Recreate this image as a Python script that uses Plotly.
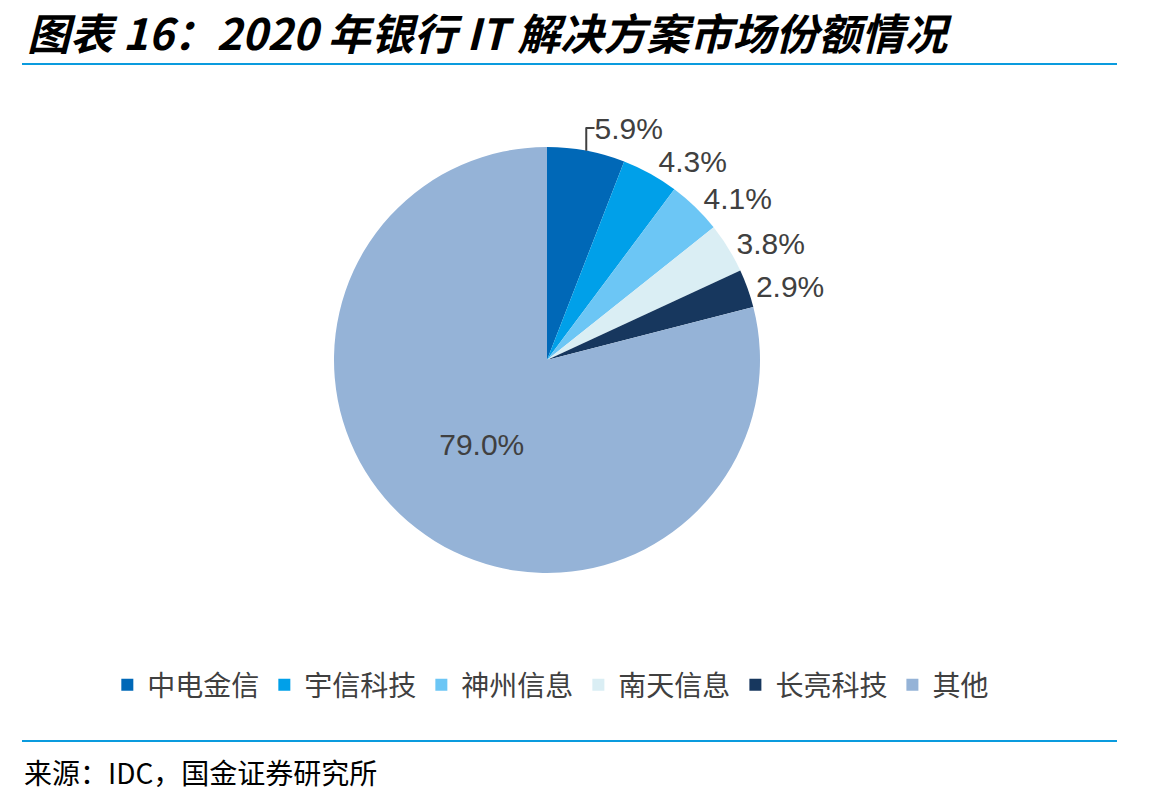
import plotly.graph_objects as go

companies = ["中电金信", "宇信科技", "神州信息", "南天信息", "长亮科技", "其他"]
shares = [5.9, 4.3, 4.1, 3.8, 2.9, 79.0]
colors = ["#0068B7", "#00A0E9", "#6CC6F5", "#DAEEF4", "#17375E", "#95B3D7"]
label_pos = ["outside", "outside", "outside", "outside", "outside", "inside"]

W, H = 1167, 803
cx, cy, r = 547, 360, 213

label_font = dict(family="Liberation Sans, Arial, sans-serif", size=30, color="#404040")

fig = go.Figure()
fig.add_trace(go.Pie(
    labels=companies,
    values=shares,
    sort=False,
    direction="clockwise",
    rotation=0,
    marker=dict(colors=colors, line=dict(color="white", width=0)),
    texttemplate="%{value:.1f}%",
    textinfo="text",
    textposition=label_pos,
    textfont=label_font,
    outsidetextfont=label_font,
    insidetextfont=label_font,
    insidetextorientation="horizontal",
    domain=dict(x=[(cx - r) / W, (cx + r) / W], y=[(H - cy - r) / H, (H - cy + r) / H]),
    hoverinfo="label+percent",
))

fig.update_layout(
    width=W, height=H,
    margin=dict(l=0, r=0, t=0, b=0),
    paper_bgcolor="white",
    plot_bgcolor="white",
    showlegend=True,
    legend=dict(
        orientation="h",
        x=0.472, xanchor="center",
        y=(H - 685) / H, yanchor="middle",
        font=dict(family="Noto Sans CJK SC, sans-serif", size=28, color="#404040"),
        itemwidth=30,
        tracegroupgap=0,
    ),
    annotations=[
        dict(text="<b><i>图表 16：2020 年银行 IT 解决方案市场份额情况</i></b>",
             x=25 / W, y=1 - 31 / H, xref="paper", yref="paper",
             xanchor="left", yanchor="middle", showarrow=False,
             font=dict(family="Noto Sans CJK SC, sans-serif", size=43, color="black")),
        dict(text="来源：IDC，国金证券研究所",
             x=22 / W, y=1 - 772 / H, xref="paper", yref="paper",
             xanchor="left", yanchor="middle", showarrow=False,
             font=dict(family="Noto Sans CJK SC, sans-serif", size=28, color="black")),
    ],
    shapes=[
        dict(type="line", xref="paper", yref="paper",
             x0=22 / W, x1=1117 / W, y0=1 - 64 / H, y1=1 - 64 / H,
             line=dict(color="#0A9BDE", width=2)),
        dict(type="line", xref="paper", yref="paper",
             x0=22 / W, x1=1117 / W, y0=1 - 741 / H, y1=1 - 741 / H,
             line=dict(color="#0A9BDE", width=2)),
    ],
)

fig.write_html("out.html")
